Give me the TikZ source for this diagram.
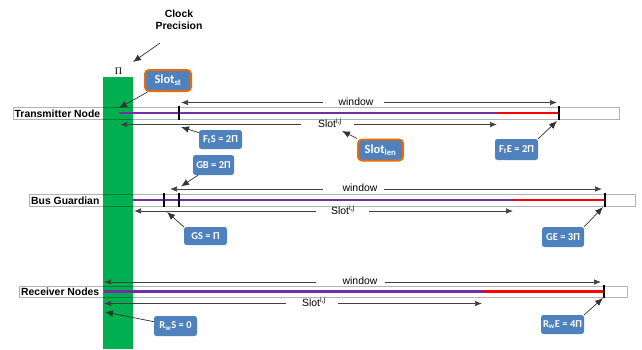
\documentclass[tikz,border=0pt]{standalone}
\usepackage{fontspec}
\setmainfont{Liberation Sans}
\newfontfamily\boxfont{Carlito}
\newfontfamily\pifont{Liberation Serif}
\usetikzlibrary{arrows.meta}
\definecolor{gbar}{HTML}{00B050}
\definecolor{bblue}{HTML}{4F81BD}
\definecolor{borange}{HTML}{E46C0A}
\definecolor{vpurple}{HTML}{7030A0}
\definecolor{vred}{HTML}{FF0000}
\begin{document}
\begin{tikzpicture}[x=1pt,y=-1pt,
 rowlbl/.style={font=\fontsize{10.4}{12}\selectfont\bfseries, anchor=base west, inner sep=0pt},
 dimtxt/.style={font=\fontsize{10.4}{12}\selectfont, anchor=base, inner sep=0pt},
 dimln/.style={draw=black!75, line width=0.7pt, -{Latex[length=7pt,width=5.5pt]}},
 ptr/.style={draw=black!80, line width=0.7pt, -{Latex[length=8pt,width=6.5pt]}},
 infobox/.style={fill=bblue, rounded corners=2.5pt, text=white, font=\boxfont\fontsize{10.5}{12}\selectfont\bfseries, inner sep=0pt, minimum width=43pt, minimum height=19pt},
 slotbox/.style={infobox, draw=borange, line width=2pt, rounded corners=4pt, minimum width=45pt, minimum height=21pt, font=\boxfont\fontsize{12.5}{14}\selectfont\bfseries},
 rowbox/.style={draw=black, draw opacity=0.3, line width=0.8pt},
 tl/.style={line width=2.5pt},
 tickmark/.style={draw=black, line width=2pt}
]
\useasboundingbox (0,0) rectangle (642,349);

% clock precision bar
\fill[gbar] (103,77) rectangle (133,349);
\node[font=\pifont\fontsize{10}{12}\selectfont, inner sep=0pt] (pi) at (118.5,71.5) {Π};
\node[font=\fontsize{10.4}{12}\selectfont\bfseries, align=center, inner sep=0pt] (cp) at (179,19.5) {Clock\\Precision};
\coordinate (cp-s) at (160,43);
\coordinate (cp-t) at (133,62);
\draw[ptr] (cp-s) -- (cp-t);

% row frames
\draw[rowbox] (13,107) rectangle (619,119);
\draw[rowbox] (29,194) rectangle (635,206);
\draw[rowbox] (19,286) rectangle (627,297);

% row labels
\node[rowlbl] (tn) at (14.5,117) {Transmitter Node};
\node[rowlbl] (bg) at (31,204) {Bus Guardian};
\node[rowlbl] (rn) at (21,295) {Receiver Nodes};

% timelines
\draw[tl, vpurple] (119,113) -- (498,113);
\draw[tl, vred] (498,113) -- (559,113);
\draw[tl, vpurple] (133,200) -- (513,200);
\draw[tl, vred] (513,200) -- (605,200);
\draw[tl, vpurple] (104,291.5) -- (483,291.5);
\draw[tl, vred] (483,291.5) -- (604,291.5);

% ticks
\draw[tickmark] (179,106) -- (179,120);
\draw[tickmark] (559,106) -- (559,120);
\draw[tickmark] (164,193) -- (164,207);
\draw[tickmark] (179,193) -- (179,207);
\draw[tickmark] (605,193) -- (605,207);
\draw[tickmark] (604,285) -- (604,298);

% transmitter dimension arrows
\node[dimtxt] (tw) at (356,105) {window};
\coordinate (tw-gl) at (323,102.5); \coordinate (tw-l) at (181,102.5);
\coordinate (tw-gr) at (384,102.5); \coordinate (tw-r) at (557,102.5);
\draw[dimln] (tw-gl) -- (tw-l);
\draw[dimln] (tw-gr) -- (tw-r);
\node[dimtxt] (ts) at (330,127) {Slot\textsuperscript{i,j}};
\coordinate (ts-gl) at (301,124.5); \coordinate (ts-l) at (120,124.5);
\coordinate (ts-gr) at (354,124.5); \coordinate (ts-r) at (497,124.5);
\draw[dimln] (ts-gl) -- (ts-l);
\draw[dimln] (ts-gr) -- (ts-r);

% bus guardian dimension arrows
\node[dimtxt] (bw) at (360,191.7) {window};
\coordinate (bw-gl) at (323,189); \coordinate (bw-l) at (170,189);
\coordinate (bw-gr) at (384,189); \coordinate (bw-r) at (602,189);
\draw[dimln] (bw-gl) -- (bw-l);
\draw[dimln] (bw-gr) -- (bw-r);
\node[dimtxt] (bs) at (343,214) {Slot\textsuperscript{i,j}};
\coordinate (bs-gl) at (316,211); \coordinate (bs-l) at (134,211);
\coordinate (bs-gr) at (369,211); \coordinate (bs-r) at (513,211);
\draw[dimln] (bs-gl) -- (bs-l);
\draw[dimln] (bs-gr) -- (bs-r);

% receiver dimension arrows
\node[dimtxt] (rw) at (360,284.5) {window};
\coordinate (rw-gl) at (316,282); \coordinate (rw-l) at (104,282);
\coordinate (rw-gr) at (385,282); \coordinate (rw-r) at (601,282);
\draw[dimln] (rw-gl) -- (rw-l);
\draw[dimln] (rw-gr) -- (rw-r);
\node[dimtxt] (rs) at (314,306.5) {Slot\textsuperscript{i,j}};
\coordinate (rs-gl) at (286,303.5); \coordinate (rs-l) at (104,303.5);
\coordinate (rs-gr) at (338,303.5); \coordinate (rs-r) at (482,303.5);
\draw[dimln] (rs-gl) -- (rs-l);
\draw[dimln] (rs-gr) -- (rs-r);

% info boxes
\node[slotbox, minimum width=46pt] (sst) at (168,80.5) {Slot\textsubscript{st}};
\node[slotbox] (slen) at (380.5,150) {Slot\textsubscript{len}};
\node[infobox] (fts) at (220.5,139.5) {F\textsubscript{t}S = 2Π};
\node[infobox, minimum width=41pt, minimum height=20pt] (gb) at (213.5,165) {GB = 2Π};
\node[infobox, minimum height=21pt] (fte) at (516.5,149.5) {F\textsubscript{t}E = 2Π};
\node[infobox, minimum height=18pt] (gs) at (205.5,236) {GS = Π};
\node[infobox, minimum width=42pt, minimum height=20pt] (ge) at (563,237) {GE = 3Π};
\node[infobox, minimum height=20pt] (rws) at (175.5,326) {R\textsubscript{w}S = 0};
\node[infobox] (rwe) at (562.5,324.5) {R\textsubscript{w}E = 4Π};

% pointer targets
\coordinate (sst-t) at (119,108);
\coordinate (fts-t) at (181,127);
\coordinate (gb-t) at (181,186.5);
\coordinate (slen-t) at (342,131);
\coordinate (fte-t) at (557,121);
\coordinate (gs-t) at (167,212);
\coordinate (ge-t) at (603,207);
\coordinate (rws-t) at (105,312);
\coordinate (rwe-t) at (603,298);

\draw[ptr] (sst) -- (sst-t);
\draw[ptr] (fts) -- (fts-t);
\draw[ptr] (gb) -- (gb-t);
\draw[ptr] (slen) -- (slen-t);
\draw[ptr] (fte.north east) -- (fte-t);
\draw[ptr] (gs.north west) -- (gs-t);
\draw[ptr] (ge.north east) -- (ge-t);
\draw[ptr] (rws) -- (rws-t);
\draw[ptr] (rwe.north east) -- (rwe-t);
\end{tikzpicture}
\end{document}
